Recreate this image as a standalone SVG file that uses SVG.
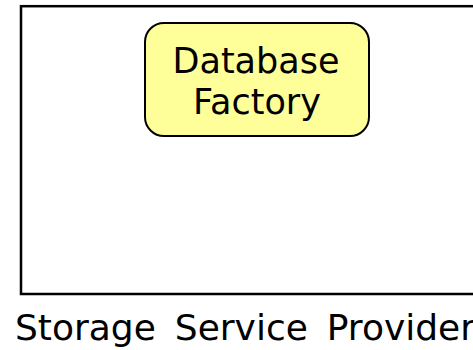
<svg xmlns="http://www.w3.org/2000/svg" width="473" height="350" viewBox="0 0 473 350">
  <style>
    .frame { fill: none; stroke: #000; stroke-width: 2.5; }
    .node { fill: #ffff99; stroke: #000; stroke-width: 2; }
    .label { font-family: "DejaVu Sans", Verdana, sans-serif; fill: #000; }
  </style>
  <rect width="473" height="350" fill="#ffffff"/>
  <g id="storage-service-provider">
    <rect class="frame" x="21" y="6.2" width="470" height="287.8"/>
    <text class="label" x="15" y="339.5" font-size="36" word-spacing="7.5">Storage Service Provider</text>
  </g>
  <g id="database-factory">
    <rect class="node" x="145" y="23" width="224" height="113" rx="19" ry="19"/>
    <text class="label" x="256" y="72.5" font-size="35" text-anchor="middle">Database</text>
    <text class="label" x="257" y="113.7" font-size="35" text-anchor="middle">Factory</text>
  </g>
  <g id="connectors"></g>
</svg>
